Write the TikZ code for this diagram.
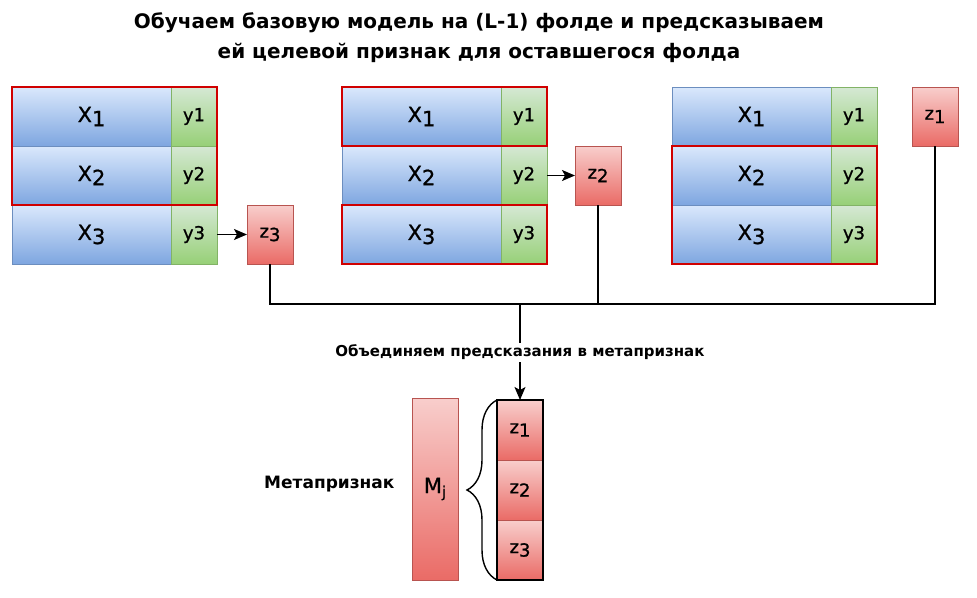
\documentclass[tikz,border=0pt]{standalone}
\usepackage{fontspec}
\setmainfont{DejaVu Sans}
\newfontfamily\cellfont{DejaVu Sans}[FakeBold=0.9]
\usetikzlibrary{arrows.meta,decorations.pathreplacing}
\definecolor{bluetop}{HTML}{DAE8FC}\definecolor{bluebot}{HTML}{7EA6E0}\definecolor{blueline}{HTML}{6C8EBF}
\definecolor{greentop}{HTML}{D5E8D4}\definecolor{greenbot}{HTML}{97D077}\definecolor{greenline}{HTML}{82B366}
\definecolor{redtop}{HTML}{F8CECC}\definecolor{redbot}{HTML}{EA6B66}\definecolor{redline}{HTML}{B85450}
\definecolor{foldline}{HTML}{D00000}
\newcommand{\sub}[1]{\raisebox{-0.35ex}{#1}}
\begin{document}
\begin{tikzpicture}[x=1pt,y=-1pt,
  cellbase/.style={anchor=north west,inner sep=0pt,outer sep=0pt,font=\cellfont\fontsize{21}{21}\selectfont},
  xcell/.style={cellbase,draw=blueline,top color=bluetop,bottom color=bluebot,minimum width=159pt,minimum height=59pt},
  ycell/.style={cellbase,draw=greenline,top color=greentop,bottom color=greenbot,minimum width=46pt,minimum height=59pt,font=\cellfont\fontsize{18}{18}\selectfont},
  zcell/.style={cellbase,draw=redline,top color=redtop,bottom color=redbot,minimum width=46pt,minimum height=59pt,font=\cellfont\fontsize{18}{18}\selectfont},
  fold/.style={draw=foldline,line width=1.6pt},
  link/.style={draw=black,line width=1.4pt},
  arr/.style={link,-{Stealth[length=13pt,width=11pt,inset=3pt]}}
]
\useasboundingbox (0,0) rectangle (977,597);

% title
\node[font=\bfseries\fontsize{20}{30}\selectfont,align=center] (title) at (479,38)
  {Обучаем базовую модель на (L-1) фолде и предсказываем\\ей целевой признак для оставшегося фолда};

% fold 1: rows 1-2 for training, row 3 predicted
\node[xcell] (xa1) at (12,87) {X\sub{1}};
\node[xcell] (xa2) at (12,146) {X\sub{2}};
\node[xcell] (xa3) at (12,205) {X\sub{3}};
\node[ycell] (ya1) at (171,87) {y1};
\node[ycell] (ya2) at (171,146) {y2};
\node[ycell] (ya3) at (171,205) {y3};
\node[zcell] (za) at (247,205) {z\sub{3}};
\draw[fold] (xa1.north west) rectangle (ya2.south east);

% fold 2: rows 1 and 3 for training, row 2 predicted
\node[xcell] (xb1) at (342,87) {X\sub{1}};
\node[xcell] (xb2) at (342,146) {X\sub{2}};
\node[xcell] (xb3) at (342,205) {X\sub{3}};
\node[ycell] (yb1) at (501,87) {y1};
\node[ycell] (yb2) at (501,146) {y2};
\node[ycell] (yb3) at (501,205) {y3};
\node[zcell] (zb) at (575,146) {z\sub{2}};
\draw[fold] (xb1.north west) rectangle (yb1.south east);
\draw[fold] (xb3.north west) rectangle (yb3.south east);

% fold 3: rows 2-3 for training, row 1 predicted
\node[xcell] (xc1) at (672,87) {X\sub{1}};
\node[xcell] (xc2) at (672,146) {X\sub{2}};
\node[xcell] (xc3) at (672,205) {X\sub{3}};
\node[ycell] (yc1) at (831,87) {y1};
\node[ycell] (yc2) at (831,146) {y2};
\node[ycell] (yc3) at (831,205) {y3};
\node[zcell] (zc) at (912,87) {z\sub{1}};
\draw[fold] (xc2.north west) rectangle (yc3.south east);

% predictions
\draw[arr] (ya3.east) -- (za.west);
\draw[arr] (yb2.east) -- (zb.west);

% meta-feature column
\node[zcell,minimum width=46pt,minimum height=182pt,font=\cellfont\fontsize{21}{21}\selectfont] (mj) at (412,398) {M\sub{\fontsize{15}{15}\selectfont j}};
\node[zcell,minimum height=60pt] (m1) at (497,400) {z\sub{1}};
\node[zcell,minimum height=60pt] (m2) at (497,460) {z\sub{2}};
\node[zcell,minimum height=60pt] (m3) at (497,520) {z\sub{3}};
\draw[line width=1.6pt] (m1.north west) rectangle (m3.south east);
\draw[line width=1.4pt,decorate,decoration={brace,amplitude=30pt,aspect=0.5}]
  (m3.south west) -- (m1.north west);
\node[font=\bfseries\fontsize{17}{17}\selectfont,anchor=east] (metalabel) at (398,484) {Метапризнак};

% gathering the predictions
\coordinate (jn) at (520,304);
\draw[link] (za.south) |- (jn);
\draw[link] (zb.south) |- (jn);
\draw[link] (zc.south) |- (jn);
\draw[arr] (jn) -- node[fill=white,inner sep=2pt,font=\bfseries\fontsize{15}{15}\selectfont] (joinlabel) {Объединяем предсказания в метапризнак} (m1.north);
\end{tikzpicture}
\end{document}
